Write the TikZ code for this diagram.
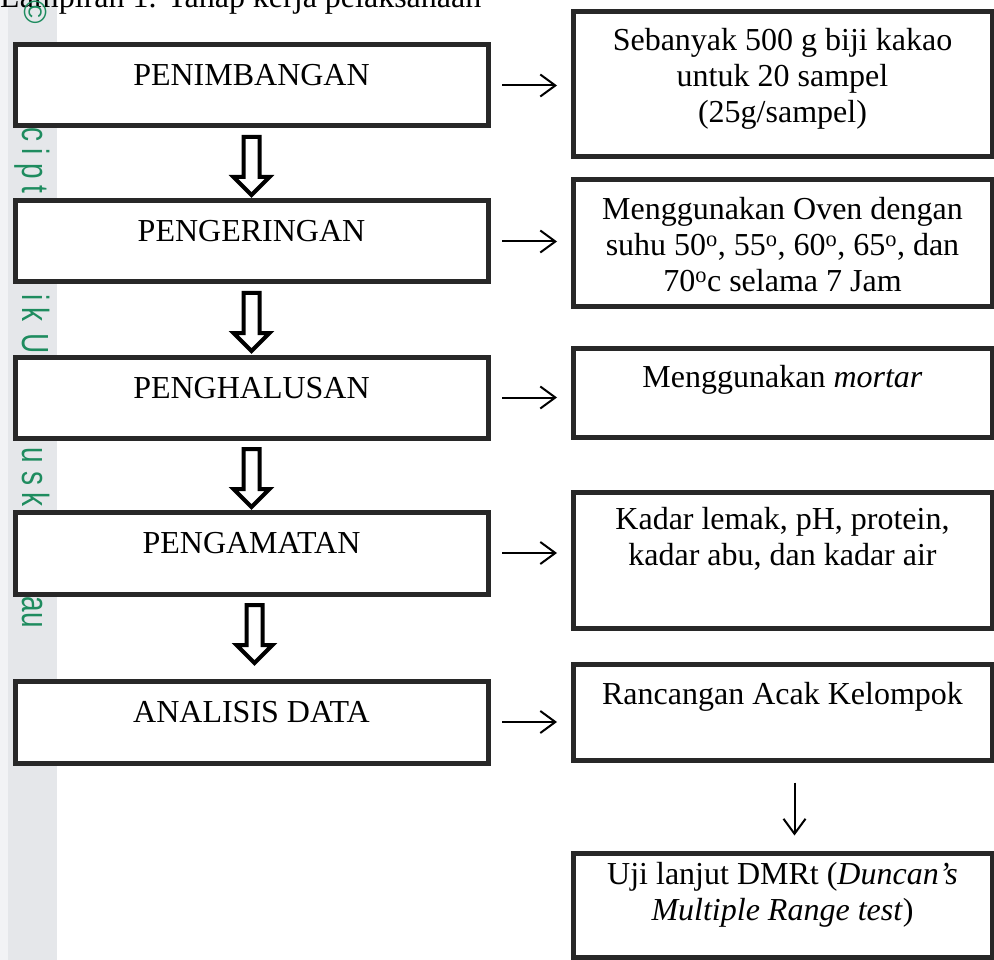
\documentclass[tikz,border=0pt]{standalone}
\usepackage{fontspec}
\usepackage{graphicx}
\setmainfont{Liberation Serif}
\newfontfamily\wmfont{Liberation Sans}
\usetikzlibrary{arrows.meta,calc}
\definecolor{wmgreen}{RGB}{30,140,95}
\definecolor{stripgray}{RGB}{229,231,234}
\definecolor{margingray}{RGB}{242,243,245}
\definecolor{boxline}{RGB}{40,40,40}
% #1 width, #2 height, #3 first baseline from top, #4 text
\newcommand{\boxtext}[4]{\parbox[c][#2pt][t]{#1pt}{\centering\rule{0pt}{#3pt}#4}}
\newcommand{\dblarrow}[3]{%
  \draw[dblarrowstyle] ($(#1.south)+(#3-8,#2)$) -- ++(16,0) -- ++(0,40)
    -- ++(10,0) -- ++(-18,18) -- ++(-18,-18) -- ++(10,0) -- cycle;}
\tikzset{
  box/.style={draw=boxline, line width=5pt, fill=white, inner sep=0pt,
    anchor=north west, font=\fontsize{32}{36}\selectfont},
  dblarrowstyle/.style={draw=black, line width=4pt, fill=white, line join=miter},
  harrow/.style={line width=2pt, -{Straight Barb[length=15pt,width=22pt]}},
  wm/.style={text=wmgreen, font=\wmfont\fontsize{28}{28}\selectfont,
    inner sep=0pt, rotate=-90, anchor=base},
  titlefont/.style={font=\fontsize{32}{36}\selectfont, inner sep=0pt}
}
\begin{document}
\begin{tikzpicture}[x=1pt, y=-1pt]
\useasboundingbox (0,0) rectangle (994,960);
\clip (0,0) rectangle (994,960);
\fill[white] (0,0) rectangle (994,960);
% watermark margin
\fill[margingray] (0,0) rectangle (8,960);
\fill[stripgray] (8,0) rectangle (57,960);
\foreach \ch/\yy in {c/135, i/152, p/171, t/189, i/298, k/315, U/344,
                     u/455, s/478, k/499, a/604, u/620}
  \node[wm] at (23,\yy) {\scalebox{1}[1.35]{\ch}};
% title (cut off at the top)
\node[titlefont, anchor=base west] (title) at (0,8) {Lampiran 1. Tahap kerja pelaksanaan};
\node[text=wmgreen, font=\wmfont\fontsize{32}{32}\selectfont, inner sep=0pt, rotate=-90] (copy) at (36,12) {©};
% left process boxes
\node[box] (L1) at (12.5,42.5)  {\boxtext{473}{81}{41}{PENIMBANGAN}};
\node[box] (L2) at (12.5,198.5) {\boxtext{473}{81}{41}{PENGERINGAN}};
\node[box] (L3) at (12.5,354.5) {\boxtext{473}{81}{41}{PENGHALUSAN}};
\node[box] (L4) at (12.5,509.5) {\boxtext{473}{82}{41}{PENGAMATAN}};
\node[box] (L5) at (12.5,678.5) {\boxtext{473}{82}{41}{ANALISIS DATA}};
% right description boxes
\node[box] (R1) at (570.5,9.5)   {\boxtext{419}{145}{38.5}{Sebanyak 500 g biji kakao\\untuk 20 sampel\\(25g/sampel)}};
\node[box] (R2) at (570.5,177.5) {\boxtext{419}{127}{39.5}{Menggunakan Oven dengan\\suhu 50\textsuperscript{o}, 55\textsuperscript{o}, 60\textsuperscript{o}, 65\textsuperscript{o}, dan\\70\textsuperscript{o}c selama 7 Jam}};
\node[box] (R3) at (570.5,345.5) {\boxtext{419}{89}{39.5}{Menggunakan \textit{mortar}}};
\node[box] (R4) at (570.5,489.5) {\boxtext{419}{136}{37.5}{Kadar lemak, pH, protein,\\kadar abu, dan kadar air}};
\node[box] (R5) at (570.5,661.5) {\boxtext{419}{96}{40.5}{Rancangan Acak Kelompok}};
\node[box] (R6) at (570.5,850.5) {\boxtext{419}{104}{31.5}{Uji lanjut DMRt (\textit{Duncan’s}\\\textit{Multiple Range test})}};
% hollow down arrows
\dblarrow{L1}{8.5}{0}
\dblarrow{L2}{8.5}{0}
\dblarrow{L3}{8.5}{0}
\dblarrow{L4}{8.5}{3}
% horizontal arrows
\foreach \i in {1,...,5}
  \draw[harrow] ($(L\i.east)+(11.5,0)$) -- ($(L\i.east -| R\i.west)+(-13.5,0)$);
% last vertical arrow
\draw[harrow] ($(R5.south)+(12,20)$) -- ($(R6.north)+(12,-15)$);
\end{tikzpicture}
\end{document}
